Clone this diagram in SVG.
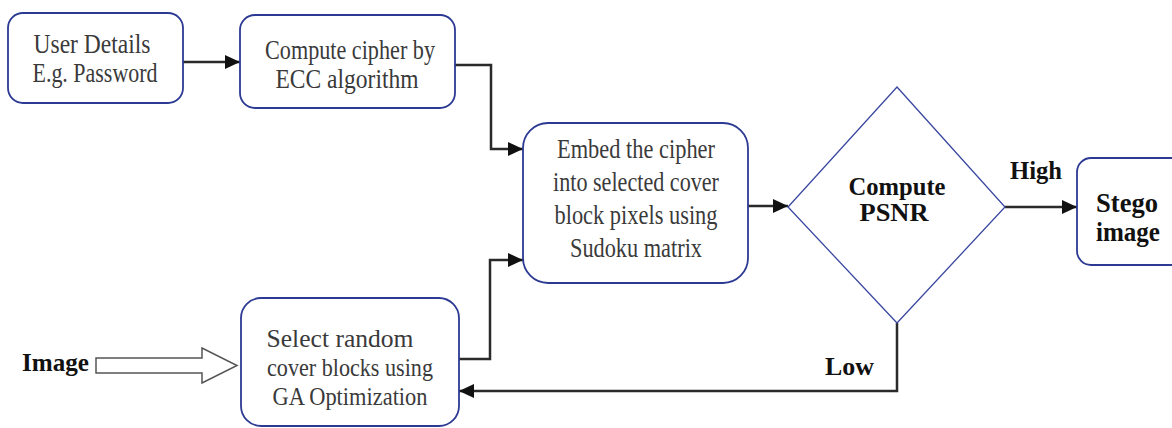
<svg xmlns="http://www.w3.org/2000/svg" width="1172" height="428" viewBox="0 0 1172 428">
<style>
.box{fill:#fff;stroke:#2d3a94;stroke-width:1.8}
.dia{fill:#fff;stroke:#3a47a0;stroke-width:1.3}
.t{font-family:"Liberation Serif","Times New Roman",serif;font-size:28px;fill:#3a3a3a;text-anchor:middle}
.t2{font-size:26px}
.b{font-family:"Liberation Serif","Times New Roman",serif;font-size:25px;font-weight:bold;fill:#111;text-anchor:middle}
.s{text-anchor:start}
.c{fill:none;stroke:#2a2a2a;stroke-width:2.5}
</style>
<defs>
<marker id="ah" markerUnits="userSpaceOnUse" markerWidth="16" markerHeight="14" refX="15" refY="7" orient="auto">
<path d="M0,0 L15,7 L0,14 Z" fill="#111"/>
</marker>
</defs>
<rect width="1172" height="428" fill="#fff"/>
<g id="connectors">
<path class="c" d="M183,62 H240" marker-end="url(#ah)"/>
<path class="c" d="M455,65 H491 V149 H523" marker-end="url(#ah)"/>
<path class="c" d="M459,359 H490 V260 H523" marker-end="url(#ah)"/>
<path class="c" d="M748,206 H788" marker-end="url(#ah)"/>
<path class="c" d="M1005,207 H1077" marker-end="url(#ah)"/>
<path class="c" d="M897,323 V391 H459" marker-end="url(#ah)"/>
<polygon points="96,358 202,358 202,348 237,365.5 202,383 202,373 96,373" fill="#fff" stroke="#555" stroke-width="1.5"/>
<text class="b s" x="1010" y="179" textLength="52" lengthAdjust="spacingAndGlyphs">High</text>
<text class="b s" x="825" y="375" textLength="49" lengthAdjust="spacingAndGlyphs">Low</text>
</g>
<g id="user-details">
<rect class="box" x="8" y="13" width="175" height="90" rx="15"/>
<text class="t" x="92" y="53" textLength="117" lengthAdjust="spacingAndGlyphs">User Details</text>
<text class="t" x="95" y="82" textLength="125" lengthAdjust="spacingAndGlyphs">E.g. Password</text>
</g>
<g id="compute-cipher">
<rect class="box" x="240" y="15" width="215" height="93" rx="15"/>
<text class="t" x="350" y="59" textLength="170" lengthAdjust="spacingAndGlyphs">Compute cipher by</text>
<text class="t" x="347" y="88" textLength="143" lengthAdjust="spacingAndGlyphs">ECC algorithm</text>
</g>
<g id="embed">
<rect class="box" x="523" y="123" width="225" height="160" rx="25"/>
<text class="t" x="636" y="158" textLength="158" lengthAdjust="spacingAndGlyphs">Embed the cipher</text>
<text class="t" x="636" y="191" textLength="166" lengthAdjust="spacingAndGlyphs">into selected cover</text>
<text class="t" x="636" y="224" textLength="163" lengthAdjust="spacingAndGlyphs">block pixels using</text>
<text class="t" x="636" y="257" textLength="132" lengthAdjust="spacingAndGlyphs">Sudoku matrix</text>
</g>
<g id="select-blocks">
<rect class="box" x="241" y="298" width="218" height="128" rx="20"/>
<text class="t t2" x="340" y="347" textLength="147" lengthAdjust="spacingAndGlyphs">Select random</text>
<text class="t t2" x="350" y="376" textLength="166" lengthAdjust="spacingAndGlyphs">cover blocks using</text>
<text class="t t2" x="350" y="405" textLength="155" lengthAdjust="spacingAndGlyphs">GA Optimization</text>
</g>
<g id="psnr">
<polygon class="dia" points="897,87 1005,207 897,323 788,207"/>
<text class="b" x="897" y="195" textLength="97" lengthAdjust="spacingAndGlyphs">Compute</text>
<text class="b" x="894" y="221" textLength="69" lengthAdjust="spacingAndGlyphs">PSNR</text>
</g>
<g id="stego">
<rect class="box" x="1077" y="158" width="110" height="107" rx="14"/>
<text class="b" x="1127" y="212" style="font-size:27px" textLength="62" lengthAdjust="spacingAndGlyphs">Stego</text>
<text class="b" x="1128" y="241" style="font-size:27px" textLength="64" lengthAdjust="spacingAndGlyphs">image</text>
</g>
<g id="image-input">
<text class="b s" x="22" y="371" textLength="67" lengthAdjust="spacingAndGlyphs">Image</text>
</g>
</svg>
